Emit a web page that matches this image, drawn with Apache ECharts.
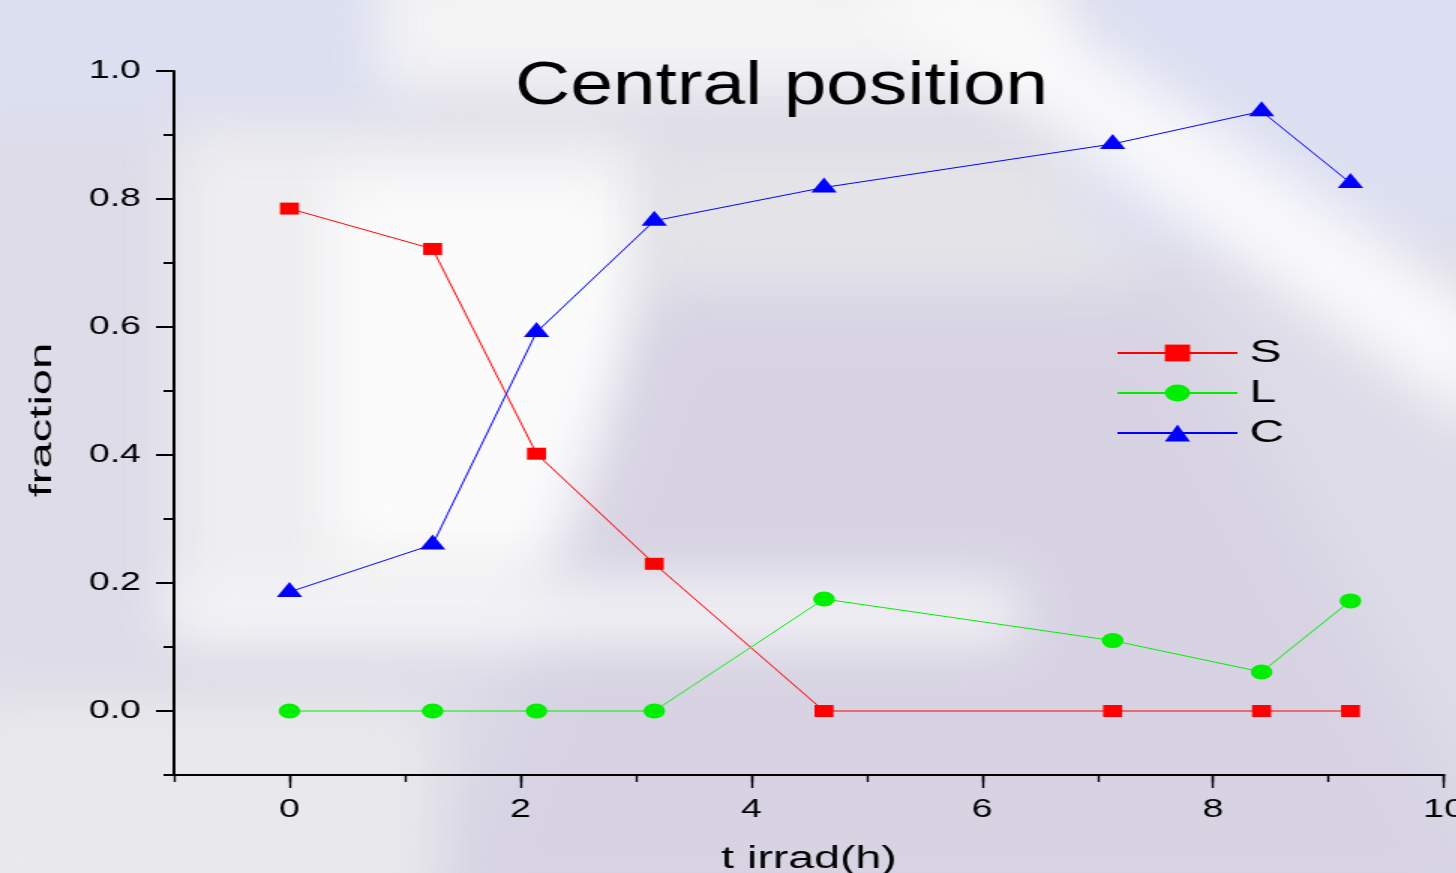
<!DOCTYPE html>
<html><head><meta charset="utf-8">
<script src="https://cdn.jsdelivr.net/npm/echarts@6/dist/echarts.min.js"></script>
<style>
html,body{margin:0;padding:0;width:1456px;height:873px;overflow:hidden;background:#dedce8;}
#bg{position:absolute;left:0;top:0;width:1456px;height:873px;overflow:hidden;}
.b{position:absolute;filter:blur(28px);}
.b>div{width:100%;height:100%;}
#chart{position:absolute;left:0;top:0;width:971px;height:873px;transform:scaleX(1.5);transform-origin:0 0;}
</style></head><body>
<div id="bg">
  <div class="b" style="left:-60px;top:-60px;width:480px;height:190px;"><div style="background:#dcdff0"></div></div>
  <div class="b" style="left:175px;top:130px;width:470px;height:480px;"><div style="background:#eeeef0"></div></div>
  <div class="b" style="left:330px;top:180px;width:300px;height:380px;"><div style="background:#fbfbfc"></div></div>
  <div class="b" style="left:380px;top:-40px;width:700px;height:130px;"><div style="background:#f4f4f5"></div></div>
  <div class="b" style="left:650px;top:150px;width:480px;height:150px;"><div style="background:#e4e4e8"></div></div>
  <div class="b" style="left:430px;top:300px;width:1100px;height:620px;"><div style="background:#d7d3e3;clip-path:polygon(20% 0,68% 0,100% 100%,0 100%)"></div></div>
  <div class="b" style="left:170px;top:585px;width:850px;height:55px;"><div style="background:#f7f7f8"></div></div>
  <div class="b" style="left:1080px;top:-60px;width:440px;height:300px;"><div style="background:#dcdff1"></div></div>
  <div class="b" style="left:850px;top:-20px;width:640px;height:480px;"><div style="background:#fafafb;clip-path:polygon(0 0,22% 0,100% 70%,100% 95%)"></div></div>
  <div class="b" style="left:-40px;top:700px;width:470px;height:220px;"><div style="background:#e9e9ec"></div></div>
</div>
<div id="chart"></div>
<script>
// ---- data ----
const times = [0, 1.24, 2.14, 3.16, 4.63, 7.13, 8.42, 9.19];
const fracS = [0.785, 0.722, 0.402, 0.230, 0, 0, 0, 0];
const fracL = [0, 0, 0, 0, 0.175, 0.110, 0.061, 0.172];
const fracC = [0.186, 0.260, 0.592, 0.766, 0.818, 0.886, 0.937, 0.825];
const xMajorTicks = [0, 2, 4, 6, 8, 10];
const yMajorTicks = [0, 0.2, 0.4, 0.6, 0.8, 1.0];
const seriesNames = ['S', 'L', 'C'];
const titleText = 'Central position';
const xName = 't irrad(h)';
const yName = 'fraction';

const FONT = '"Liberation Sans", Arial, Helvetica, sans-serif';
const pairs = ys => times.map((t, i) => [t, ys[i]]);

const chart = echarts.init(document.getElementById('chart'), null, {renderer: 'canvas', width: 971, height: 873});
const axisLineStyle = {color: '#000', width: 2};

chart.setOption({
  animation: false,
  backgroundColor: 'transparent',
  grid: {left: 116, right: 8.33, top: 71, bottom: 98, containLabel: false, outerBoundsMode: 'none'},
  graphic: [
    {type: 'text', x: 521, y: 87, scaleX: 0.839, z: 10,
      style: {text: titleText, fontSize: 61, fontFamily: FONT, fill: '#000',
        textAlign: 'center', textVerticalAlign: 'middle'}},
    {type: 'text', x: 28.5, y: 420, rotation: Math.PI / 2, scaleX: 2.245, z: 10,
      style: {text: yName, fontSize: 21, fontFamily: FONT, fill: '#000',
        textAlign: 'center', textVerticalAlign: 'middle'}}
  ],
  legend: {
    data: seriesNames, orient: 'vertical', left: 739, top: 332,
    itemWidth: 80, itemHeight: 21, itemGap: 8,
    textStyle: {fontSize: 32, fontFamily: FONT, color: '#000', padding: [0, 0, 0, 3]}
  },
  xAxis: [
    {type: 'value', min: -1, max: 10, position: 'bottom',
      name: xName, nameLocation: 'middle', nameGap: 69,
      nameTextStyle: {fontSize: 31, fontFamily: FONT, color: '#000'},
      axisLine: {show: true, onZero: false, lineStyle: axisLineStyle},
      axisTick: {show: true, customValues: xMajorTicks, length: 13, lineStyle: {color: '#000', width: 1.4}},
      axisLabel: {show: true, customValues: xMajorTicks, margin: 23, fontSize: 25, fontFamily: FONT, color: '#000',
        formatter: v => String(Math.round(v))},
      splitLine: {show: false}},
    {type: 'value', min: -1, max: 10, interval: 1, position: 'bottom', offset: 0,
      axisLine: {show: false, onZero: false},
      axisTick: {show: true, length: 7, lineStyle: {color: '#000', width: 1.4}},
      axisLabel: {show: false}, splitLine: {show: false}}
  ],
  yAxis: [
    {type: 'value', min: -0.1, max: 1.0, position: 'left',
      axisLine: {show: true, onZero: false, lineStyle: axisLineStyle},
      axisTick: {show: true, customValues: yMajorTicks, length: 12, lineStyle: {color: '#000', width: 2}},
      axisLabel: {show: true, customValues: yMajorTicks, margin: 22, fontSize: 25, fontFamily: FONT, color: '#000',
        formatter: v => v.toFixed(1)},
      splitLine: {show: false}},
    {type: 'value', min: -0.1, max: 1.0, interval: 0.1, position: 'left', offset: 0,
      axisLine: {show: false, onZero: false},
      axisTick: {show: true, length: 7, lineStyle: {color: '#000', width: 2}},
      axisLabel: {show: false}, splitLine: {show: false}}
  ],
  series: [
    {name: 'S', type: 'line', xAxisIndex: 0, yAxisIndex: 0, data: pairs(fracS),
      symbol: 'rect', symbolSize: [12.7, 12],
      lineStyle: {color: '#ff0000', width: 1}, itemStyle: {color: '#ff0000'}, z: 3},
    {name: 'L', type: 'line', xAxisIndex: 0, yAxisIndex: 0, data: pairs(fracL),
      symbol: 'circle', symbolSize: [14.5, 15],
      lineStyle: {color: '#00ee00', width: 1}, itemStyle: {color: '#00ee00'}, z: 3},
    {name: 'C', type: 'line', xAxisIndex: 0, yAxisIndex: 0, data: pairs(fracC),
      symbol: 'triangle', symbolSize: [17, 15], symbolOffset: [0, -2.5],
      lineStyle: {color: '#0000ff', width: 1}, itemStyle: {color: '#0000ff'}, z: 3}
  ]
});
</script>
</body></html>
